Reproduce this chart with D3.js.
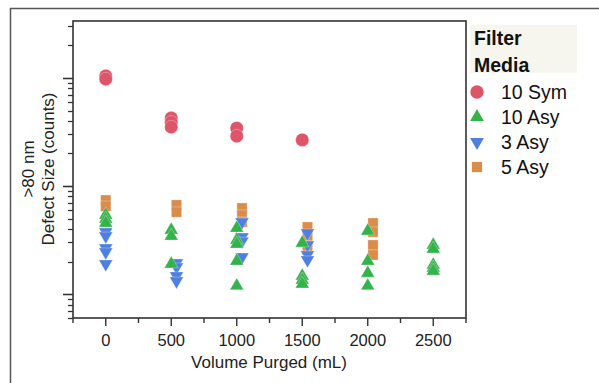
<!DOCTYPE html>
<html>
<head>
<meta charset="utf-8">
<script src="https://cdn.jsdelivr.net/npm/d3@7"></script>
<style>
  body { margin: 0; background: #fff; }
  svg { display: block; font-family: "Liberation Sans", Arial, sans-serif; }
</style>
</head>
<body>
<svg id="chart" width="599" height="383"></svg>
<script>
'use strict';

// [volume purged (mL), defect count]
const SYM_10 = [
    [0, 1043], [0, 979],
    [500, 426], [500, 390], [500, 352],
    [1000, 344], [1000, 290],
    [1500, 267],
];
const ASY_10 = [
    [0, 54], [0, 49.4], [0, 45.4],
    [500, 39.1], [500, 34.4], [500, 19],
    [1000, 40.8], [1000, 31.6], [1000, 29], [1000, 20.2], [1000, 11.9],
    [1500, 29.7], [1500, 14.7], [1500, 13.5], [1500, 12.4],
    [2000, 38.3], [2000, 20.2], [2000, 15.6], [2000, 11.9],
    [2500, 28.4], [2500, 26.1], [2500, 18.6], [2500, 17.4], [2500, 16.3],
];
const ASY_3 = [
    [0, 37.5], [0, 34.4], [0, 26.7], [0, 24.5], [0, 19],
    [540, 19.4], [540, 17.8], [540, 14.7], [540, 13.2],
    [1040, 46.4], [1040, 33.7], [1040, 30.9], [1040, 22],
    [1540, 36.7], [1540, 28.4], [1540, 23], [1540, 20.7],
];
const ASY_5 = [
    [0, 74], [0, 65],
    [540, 66.7], [540, 57.4],
    [1040, 62.5], [1040, 53.9], [1040, 46.4],
    [1540, 41.7], [1540, 34.4], [1540, 27.8],
    [2040, 45.4], [2040, 37.5], [2040, 28.4], [2040, 23],
];

const X_TICKS = [0, 500, 1000, 1500, 2000, 2500];
const LEGEND_TITLE = ['Filter', 'Media'];

const SERIES = [
    { name: '10 Sym', data: SYM_10, symbol: d3.symbolCircle, size: 140, color: '#de5569', rot: 0 },
    { name: '10 Asy', data: ASY_10, symbol: d3.symbolTriangle, size: 82, color: '#34b34a', rot: 0 },
    { name: '3 Asy', data: ASY_3, symbol: d3.symbolTriangle, size: 82, color: '#4d80e0', rot: 180 },
    { name: '5 Asy', data: ASY_5, symbol: d3.symbolSquare, size: 105, color: '#da8c4b', rot: 0 },
];

const svg = d3.select('#chart');
const PLOT = { left: 73, right: 466, top: 21, bottom: 318 };

// outer frame (only top and left edges are visible)
svg.append('rect')
    .attr('x', 10.5).attr('y', 8.5)
    .attr('width', 700).attr('height', 500)
    .attr('fill', 'none').attr('stroke', '#555').attr('stroke-width', 1.5);

const xScale = d3.scaleLinear().domain([-250, 2750]).range([PLOT.left, PLOT.right]);
const yScale = d3.scaleLog().domain([6, 3370]).range([PLOT.bottom, PLOT.top]);

// y axis: log ticks without labels
const isDecade = (v) => Math.abs(Math.log10(v) - Math.round(Math.log10(v))) < 1e-9;
const yTicks = yScale.ticks();
const yAxis = svg.append('g').attr('transform', `translate(${PLOT.left},0)`);
yAxis.selectAll('line.tick')
    .data(yTicks)
    .join('line')
    .attr('class', 'tick')
    .attr('x1', (d) => (isDecade(d) ? -10 : -5))
    .attr('x2', 0)
    .attr('y1', (d) => Math.round(yScale(d)) + 0.5)
    .attr('y2', (d) => Math.round(yScale(d)) + 0.5)
    .attr('stroke', '#333')
    .attr('stroke-width', (d) => (isDecade(d) ? 1.6 : 1.3));

// x axis
const xMinor = d3.range(-250, 2751, 250);
const xAxis = svg.append('g').attr('transform', `translate(0,${PLOT.bottom})`);
xAxis.selectAll('line.tick')
    .data(xMinor)
    .join('line')
    .attr('class', 'tick')
    .attr('x1', (d) => xScale(d))
    .attr('x2', (d) => xScale(d))
    .attr('y1', 0)
    .attr('y2', (d) => (X_TICKS.includes(d) ? 8 : 5))
    .attr('stroke', '#333')
    .attr('stroke-width', 1.4);
xAxis.selectAll('text')
    .data(X_TICKS)
    .join('text')
    .attr('x', (d) => xScale(d))
    .attr('y', 28)
    .attr('text-anchor', 'middle')
    .attr('font-size', 16.5)
    .attr('fill', '#222')
    .text((d) => d);

// plot frame
svg.append('rect')
    .attr('x', PLOT.left).attr('y', PLOT.top)
    .attr('width', PLOT.right - PLOT.left).attr('height', PLOT.bottom - PLOT.top)
    .attr('fill', 'none').attr('stroke', '#333').attr('stroke-width', 1.6);

// axis titles
svg.append('text')
    .attr('x', 269).attr('y', 368)
    .attr('text-anchor', 'middle')
    .attr('font-size', 17)
    .attr('fill', '#222')
    .text('Volume Purged (mL)');

const yTitle = svg.append('text')
    .attr('transform', 'translate(0,169) rotate(-90)')
    .attr('text-anchor', 'middle')
    .attr('font-size', 17)
    .attr('fill', '#222');
yTitle.append('tspan').attr('x', 0).attr('y', 34).text('>80 nm');
yTitle.append('tspan').attr('x', 0).attr('y', 54).text('Defect Size (counts)');

// points, drawn from back to front
const drawOrder = [SERIES[3], SERIES[2], SERIES[1], SERIES[0]];
drawOrder.forEach((s) => {
    const sym = d3.symbol().type(s.symbol).size(s.size);
    svg.append('g')
        .selectAll('path')
        .data(s.data)
        .join('path')
        .attr('d', sym)
        .attr('transform', (d) => `translate(${xScale(d[0])},${yScale(d[1])}) rotate(${s.rot})`)
        .attr('fill', s.color)
        .attr('stroke', '#fff')
        .attr('stroke-opacity', 0.5)
        .attr('stroke-width', 0.6);
});

// legend
const legend = svg.append('g');
legend.append('rect')
    .attr('x', 470).attr('y', 25)
    .attr('width', 107).attr('height', 48)
    .attr('fill', '#f6f6ef');
legend.selectAll('text.title')
    .data(LEGEND_TITLE)
    .join('text')
    .attr('class', 'title')
    .attr('x', 474)
    .attr('y', (d, i) => 45 + i * 26.5)
    .attr('font-size', 19.5)
    .attr('font-weight', 'bold')
    .attr('fill', '#111')
    .text((d) => d);

const items = legend.selectAll('g.item')
    .data(SERIES)
    .join('g')
    .attr('class', 'item')
    .attr('transform', (d, i) => `translate(0,${92 + i * 25})`);
items.append('path')
    .attr('d', (d) => d3.symbol().type(d.symbol).size(d.size)())
    .attr('transform', (d) => `translate(477,0) rotate(${d.rot})`)
    .attr('fill', (d) => d.color);
items.append('text')
    .attr('x', 501)
    .attr('y', 7)
    .attr('font-size', 19.5)
    .attr('fill', '#111')
    .text((d) => d.name);
</script>
</body>
</html>
